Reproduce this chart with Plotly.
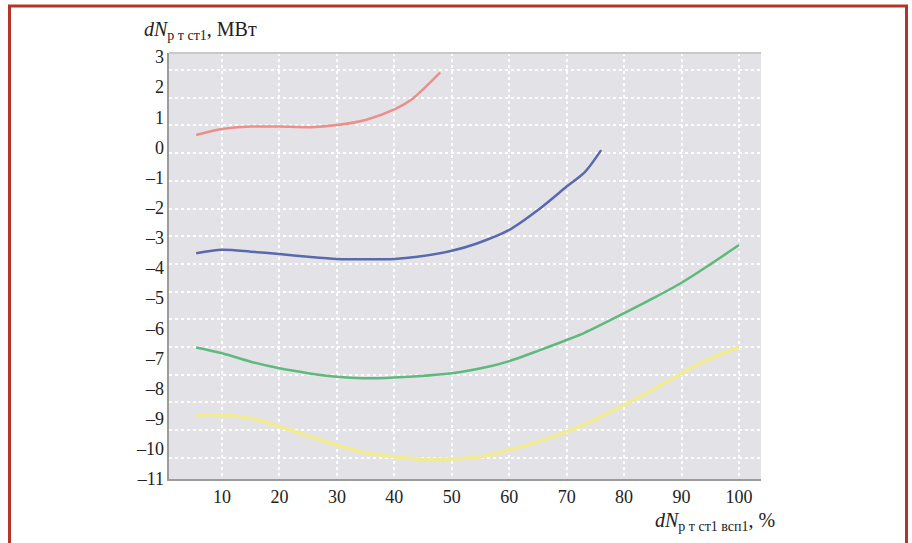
import plotly.graph_objects as go

# ---- data ----
red_x = [5.5, 10, 15, 20, 25.5, 30, 35, 40, 43, 48]
red_y = [0.41, 0.61, 0.69, 0.69, 0.67, 0.74, 0.91, 1.26, 1.59, 2.49]

blue_x = [5.5, 10, 15, 20, 25, 30, 35, 40, 44, 50, 54.5, 60, 65, 70, 73.2, 76]
blue_y = [-3.51, -3.40, -3.46, -3.54, -3.63, -3.70, -3.71, -3.70, -3.63, -3.43,
          -3.18, -2.74, -2.08, -1.30, -0.81, -0.09]

green_x = [5.5, 10, 15, 20, 25, 30, 34.4, 40, 50, 56.9, 60, 65, 70, 73.1, 80, 85, 90, 95, 100]
green_y = [-6.64, -6.83, -7.11, -7.33, -7.49, -7.61, -7.66, -7.63, -7.49, -7.25,
           -7.09, -6.75, -6.39, -6.15, -5.50, -5.01, -4.49, -3.88, -3.24]

yellow_x = [5.5, 10, 15, 20, 25, 30, 35, 40, 45, 50, 55, 60, 65, 70, 75, 80, 85, 90, 95, 100]
yellow_y = [-8.88, -8.88, -8.99, -9.26, -9.57, -9.87, -10.13, -10.26, -10.35, -10.34,
            -10.26, -10.04, -9.76, -9.43, -9.02, -8.54, -8.05, -7.49, -7.00, -6.63]

x_ticks = [10, 20, 30, 40, 50, 60, 70, 80, 90, 100]
y_ticks = [3, 2, 1, 0, -1, -2, -3, -4, -5, -6, -7, -8, -9, -10, -11]
y_ticktext = [str(v) if v >= 0 else "\u2013" + str(-v) for v in y_ticks]
grid_ticks = list(range(15))

series = [
    (red_x, red_y, "#ea8f8c", 2.5),
    (blue_x, blue_y, "#5a68ad", 2.5),
    (green_x, green_y, "#5fb97c", 2.5),
    (yellow_x, yellow_y, "#f1ec91", 3.5),
]

FONT = "Liberation Serif"

fig = go.Figure()
# empty trace to anchor the grid axis
fig.add_trace(go.Scatter(x=[], y=[], xaxis="x", yaxis="y", showlegend=False, hoverinfo="skip"))
for xs, ys, col, w in series:
    fig.add_trace(go.Scatter(x=xs, y=ys, mode="lines", line=dict(color=col, width=w, shape="spline", smoothing=0.8),
                             xaxis="x", yaxis="y2", showlegend=False))

W, H = 912, 543
L, R, T, B = 169, 151, 53, 64
pw, ph = W - L - R, H - T - B

def px(xp):
    return (xp - L) / pw

def py(yp):
    return (H - B - yp) / ph

fig.update_layout(
    width=W, height=H,
    margin=dict(l=L, r=R, t=T, b=B),
    paper_bgcolor="white",
    plot_bgcolor="#e3e3e7",
    font=dict(family=FONT, size=18, color="#222"),
    xaxis=dict(range=[0.77, 103.83], tickvals=x_ticks, ticktext=[str(v) for v in x_ticks],
               showgrid=True, gridcolor="white", griddash="dot", gridwidth=1.5,
               showline=True, linecolor="#9c9c9c", linewidth=2, zeroline=False,
               ticks="", tickfont=dict(family=FONT, size=18, color="#222")),
    yaxis=dict(range=[-0.765, 14.614], tickvals=grid_ticks, showticklabels=False,
               showgrid=True, gridcolor="white", griddash="dot", gridwidth=1.5,
               showline=True, linecolor="#9c9c9c", linewidth=2, zeroline=False, ticks=""),
    yaxis2=dict(range=[-11, 3.13], overlaying="y", side="left", anchor="x",
                tickvals=y_ticks, ticktext=y_ticktext, showgrid=False, zeroline=False,
                showline=False, ticks="", ticklabelstandoff=4,
                tickfont=dict(family=FONT, size=18, color="#222")),
    shapes=[
        dict(type="line", xref="paper", yref="paper", x0=0, x1=1, y0=1, y1=1,
             line=dict(color="#c9c9cc", width=2)),
        dict(type="rect", xref="paper", yref="paper",
             x0=px(9.5), x1=px(906.5), y0=py(6), y1=py(580),
             line=dict(color="#b3342b", width=3), fillcolor="rgba(0,0,0,0)"),
    ],
    annotations=[
        dict(xref="paper", yref="paper", x=px(142), y=py(30), xanchor="left", yanchor="middle",
             showarrow=False, text="<i>dN</i><sub>р т ст1</sub>, МВт",
             font=dict(family=FONT, size=20, color="#222")),
        dict(xref="paper", yref="paper", x=px(653), y=py(521), xanchor="left", yanchor="middle",
             showarrow=False, text="<i>dN</i><sub>р т ст1 всп1</sub>, %",
             font=dict(family=FONT, size=20, color="#222")),
    ],
)

fig.write_html("out.html", config={"displayModeBar": False},
               post_script="document.body.style.margin='0';")
